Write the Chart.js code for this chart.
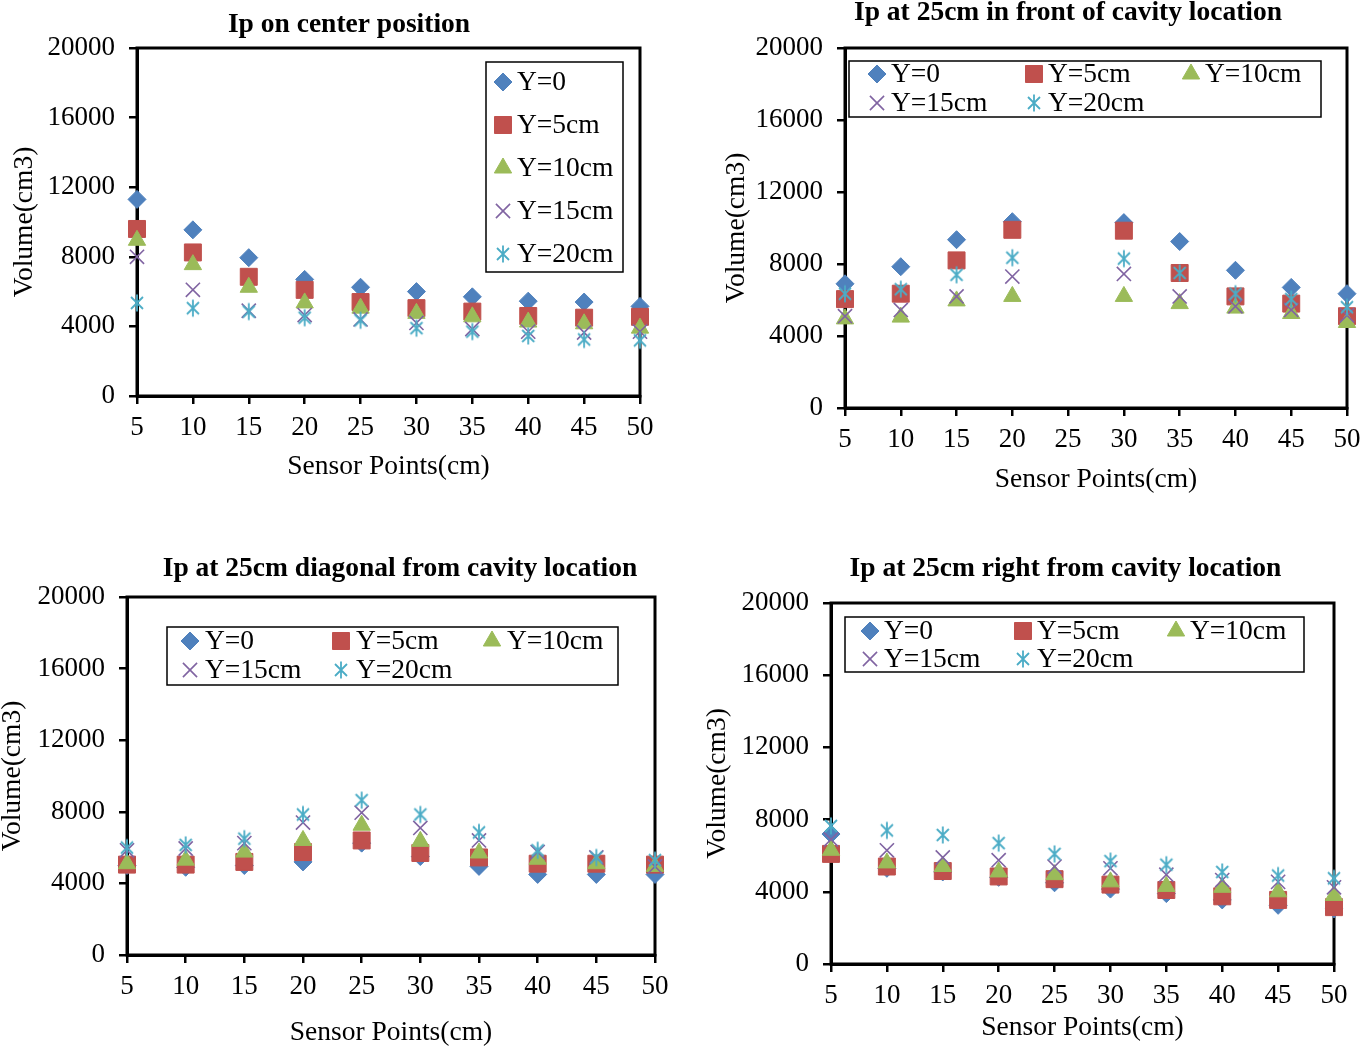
<!DOCTYPE html>
<html>
<head>
<meta charset="utf-8">
<title>Ip volume charts</title>
<script src="https://cdn.jsdelivr.net/npm/chart.js@4.4.1/dist/chart.umd.min.js"></script>
<style>
    body { margin: 0; width: 1362px; height: 1050px; overflow: hidden; background: #fff; position: relative; }
    canvas { position: absolute; }
</style>
</head>
<body>
<canvas id="centerChart"></canvas>
<canvas id="frontChart"></canvas>
<canvas id="diagChart"></canvas>
<canvas id="rightChart"></canvas>
<script>
// Sensor points (cm)
const sensorPoints = [5, 10, 15, 20, 25, 30, 35, 40, 45, 50];
const frontPoints = [5, 10, 15, 20, 30, 35, 40, 45, 50]; // no reading at 25
const seriesLabels = ['Y=0', 'Y=5cm', 'Y=10cm', 'Y=15cm', 'Y=20cm'];

// Ip on center position
const centerY0 = [11300, 9550, 7950, 6700, 6250, 6000, 5700, 5450, 5400, 5150];
const centerY5 = [9600, 8250, 6850, 6100, 5400, 5050, 4850, 4600, 4500, 4550];
const centerY10 = [8950, 7550, 6250, 5350, 5050, 4750, 4550, 4250, 4150, 3900];
const centerY15 = [8000, 6100, 4900, 4650, 4400, 4200, 3850, 3700, 3650, 3700];
const centerY20 = [5350, 5050, 4850, 4500, 4350, 3900, 3700, 3450, 3250, 3200];

// Ip at 25cm in front of cavity location
const frontY0 = [6900, 7850, 9350, 10350, 10300, 9250, 7650, 6700, 6350];
const frontY5 = [6050, 6350, 8200, 9900, 9850, 7500, 6200, 5800, 5100];
const frontY10 = [4950, 5050, 5950, 6200, 6200, 5800, 5550, 5250, 4750];
const frontY15 = [5100, 5450, 6200, 7300, 7450, 6200, 5650, 5450, 5150];
const frontY20 = [6350, 6600, 7400, 8350, 8300, 7500, 6350, 6050, 5600];

// Ip at 25cm diagonal from cavity location
const diagY0 = [5000, 4900, 5000, 5200, 6250, 5500, 4950, 4500, 4500, 4500];
const diagY5 = [5050, 5050, 5200, 5750, 6400, 5700, 5450, 5100, 5100, 5050];
const diagY10 = [5100, 5300, 5750, 6400, 7250, 6350, 5700, 5350, 5100, 4950];
const diagY15 = [5850, 5950, 6250, 7400, 7950, 7100, 6400, 5750, 5450, 4950];
const diagY20 = [6000, 6150, 6500, 7850, 8650, 7850, 6850, 5850, 5450, 5300];

// Ip at 25cm right from cavity location
const rightY0 = [7200, 5300, 5100, 4800, 4500, 4150, 3900, 3550, 3250, 3050];
const rightY5 = [6100, 5400, 5150, 4850, 4700, 4400, 4100, 3750, 3550, 3150];
const rightY10 = [6300, 5600, 5400, 5100, 4950, 4550, 4300, 4250, 4000, 3800];
const rightY15 = [6900, 6300, 5900, 5750, 5400, 5300, 4950, 4650, 4550, 4250];
const rightY20 = [7650, 7400, 7150, 6700, 6100, 5700, 5500, 5100, 4900, 4750];

const FONT = '"Liberation Serif", "Times New Roman", serif';
Chart.defaults.font.family = FONT;
Chart.defaults.font.size = 27.5;
Chart.defaults.color = '#000';

// Excel-like asterisk marker (vertical bar + X)
function makeAsterisk(color) {
    const c = document.createElement('canvas');
    c.width = 20; c.height = 20;
    const g = c.getContext('2d');
    g.strokeStyle = color;
    g.lineWidth = 1.8;
    g.beginPath();
    g.moveTo(10, 1.5); g.lineTo(10, 18.5);
    g.moveTo(4, 4); g.lineTo(16, 16);
    g.moveTo(16, 4); g.lineTo(4, 16);
    g.stroke();
    return c;
}

const markerStyles = [
    { pointStyle: 'rectRot', pointRadius: 9, pointBackgroundColor: '#4F81BD', pointBorderColor: '#4F81BD', pointBorderWidth: 1 },
    { pointStyle: 'rect', pointRadius: 12, pointBackgroundColor: '#C0504D', pointBorderColor: '#C0504D', pointBorderWidth: 1 },
    { pointStyle: 'triangle', pointRadius: 10, pointBackgroundColor: '#9BBB59', pointBorderColor: '#9BBB59', pointBorderWidth: 1 },
    { pointStyle: 'crossRot', pointRadius: 10, pointBackgroundColor: '#8064A2', pointBorderColor: '#8064A2', pointBorderWidth: 1.6 },
    { pointStyle: makeAsterisk('#4BACC6'), pointRadius: 10, pointBackgroundColor: '#4BACC6', pointBorderColor: '#4BACC6', pointBorderWidth: 1.6 }
];

// Box around the plot area (top and right sides too)
const plotFrame = {
    id: 'plotFrame',
    beforeDatasetsDraw(chart) {
        const { ctx, chartArea: { left, top, right, bottom } } = chart;
        ctx.save();
        ctx.strokeStyle = '#000';
        ctx.lineWidth = 3;
        ctx.strokeRect(left, top, right - left, bottom - top);
        ctx.restore();
    }
};

// Chart heading, placed where the original figure has it (not centred on the plot)
const headText = {
    id: 'headText',
    afterDraw(chart, args, opts) {
        const { ctx } = chart;
        ctx.save();
        ctx.font = 'bold 27.5px ' + FONT;
        ctx.fillStyle = '#000';
        ctx.textAlign = 'center';
        ctx.textBaseline = 'middle';
        ctx.fillText(opts.text, opts.x, opts.y);
        ctx.restore();
    }
};

// Legend drawn inside the plot with a thin box
const boxLegend = {
    id: 'boxLegend',
    afterDraw(chart, args, opts) {
        const { ctx } = chart;
        ctx.save();
        ctx.strokeStyle = '#000';
        ctx.lineWidth = 1.5;
        ctx.strokeRect(opts.x, opts.y, opts.w, opts.h);
        ctx.font = '27.5px ' + FONT;
        ctx.textBaseline = 'middle';
        chart.data.datasets.forEach((ds, i) => {
            const col = i % opts.cols;
            const row = Math.floor(i / opts.cols);
            const mx = opts.x + opts.padX + col * opts.colW;
            const my = opts.y + opts.padY + row * opts.rowH;
            ctx.fillStyle = ds.pointBackgroundColor;
            ctx.strokeStyle = ds.pointBorderColor;
            ctx.lineWidth = ds.pointBorderWidth;
            Chart.helpers.drawPoint(ctx, {
                pointStyle: ds.pointStyle, rotation: 0, radius: ds.pointRadius, borderWidth: ds.pointBorderWidth
            }, mx, my);
            ctx.fillStyle = '#000';
            ctx.fillText(ds.label, mx + opts.textGap, my + 1);
        });
        ctx.restore();
    }
};

function buildChart(id, box, head, xs, series, legend) {
    const canvas = document.getElementById(id);
    canvas.width = box.w;
    canvas.height = box.h;
    canvas.style.left = box.left + 'px';
    canvas.style.top = box.top + 'px';

    const datasets = series.map((ys, i) => Object.assign({
        label: seriesLabels[i],
        data: xs.map((x, j) => ({ x: x, y: ys[j] })),
        showLine: false,
        clip: false,
        order: series.length - i
    }, markerStyles[i]));

    return new Chart(canvas.getContext('2d'), {
        type: 'scatter',
        data: { datasets: datasets },
        plugins: [plotFrame, boxLegend, headText],
        options: {
            responsive: false,
            animation: false,
            layout: { padding: { left: 0, top: box.padTop, right: box.padRight, bottom: box.padBottom } },
            plugins: {
                legend: { display: false },
                tooltip: { enabled: false },
                title: { display: false },
                headText: head,
                boxLegend: legend
            },
            scales: {
                x: {
                    type: 'linear',
                    min: 5,
                    max: 50,
                    afterFit: s => { s.height = box.xH; },
                    ticks: { stepSize: 5, padding: 8, maxRotation: 0, autoSkip: false, font: { size: 27 } },
                    grid: { drawOnChartArea: false, drawTicks: true, tickLength: 8, color: '#000', lineWidth: 2.5 },
                    border: { display: true, color: '#000', width: 3 },
                    title: { display: true, text: 'Sensor Points(cm)', padding: { top: 0, bottom: box.xTitlePad } }
                },
                y: {
                    min: 0,
                    max: 20000,
                    afterFit: s => { s.width = box.yW; },
                    ticks: { stepSize: 4000, padding: 14, font: { size: 27 }, callback: v => String(v) },
                    grid: { drawOnChartArea: false, drawTicks: true, tickLength: 8, color: '#000', lineWidth: 2.5 },
                    border: { display: true, color: '#000', width: 3 },
                    title: { display: true, text: 'Volume(cm3)', padding: { top: box.yTitlePad, bottom: 0 } }
                }
            }
        }
    });
}

buildChart('centerChart',
    { left: 0, top: 0, w: 681, h: 520, padTop: 48, padRight: 41, padBottom: 30, xH: 94, yW: 137,
      xTitlePad: 6.5, yTitlePad: 8.5 },
    { text: 'Ip on center position', x: 349, y: 25 },
    sensorPoints,
    [centerY0, centerY5, centerY10, centerY15, centerY20],
    { x: 486, y: 62, w: 137, h: 210, cols: 1, colW: 0, rowH: 43, padX: 17, padY: 20, textGap: 14 });

// canvas runs past the window edge so the last x label has room
buildChart('frontChart',
    { left: 681, top: 0, w: 700, h: 520, padTop: 48, padRight: 34, padBottom: 20, xH: 92, yW: 164,
      xTitlePad: 3.5, yTitlePad: 39.5 },
    { text: 'Ip at 25cm in front of cavity location', x: 387, y: 13 },
    frontPoints,
    [frontY0, frontY5, frontY10, frontY15, frontY20],
    { x: 168, y: 61, w: 472, h: 56, cols: 3, colW: 157, rowH: 29, padX: 28, padY: 13, textGap: 14 });

buildChart('diagChart',
    { left: -10, top: 540, w: 691, h: 510, padTop: 57, padRight: 26, padBottom: 0, xH: 95, yW: 137,
      xTitlePad: 0.5, yTitlePad: 6.5 },
    { text: 'Ip at 25cm diagonal from cavity location', x: 410, y: 29 },
    sensorPoints,
    [diagY0, diagY5, diagY10, diagY15, diagY20],
    { x: 177, y: 87, w: 451, h: 58, cols: 3, colW: 151, rowH: 29, padX: 23, padY: 14, textGap: 15 });

buildChart('rightChart',
    { left: 681, top: 540, w: 681, h: 510, padTop: 63, padRight: 28, padBottom: 4, xH: 82, yW: 150,
      xTitlePad: 1.5, yTitlePad: 20.5 },
    { text: 'Ip at 25cm right from cavity location', x: 384.5, y: 29 },
    sensorPoints,
    [rightY0, rightY5, rightY10, rightY15, rightY20],
    { x: 164, y: 77, w: 459, h: 55, cols: 3, colW: 153, rowH: 28, padX: 25, padY: 14, textGap: 14 });
</script>
</body>
</html>
